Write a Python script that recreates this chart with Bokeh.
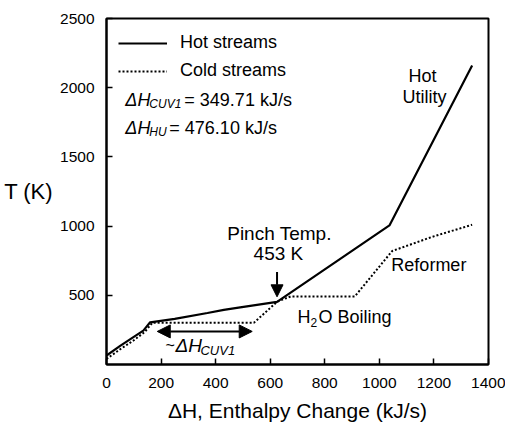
from bokeh.plotting import figure
from bokeh.models import (FixedTicker, Label, Arrow, NormalHead, Legend, LegendItem)
from bokeh.embed import file_html
from bokeh.resources import INLINE

# ---- data ----
hot_x = [0, 50, 100, 135, 160, 250, 370, 430, 490, 625, 1037, 1340]
hot_y = [65, 135, 200, 245, 305, 330, 372, 395, 413, 453, 1005, 2160]

cold_x = [0, 50, 100, 140, 168, 540, 625, 675, 910, 1047, 1190, 1340]
cold_y = [40, 110, 175, 235, 301, 301, 453, 492, 492, 820, 920, 1010]

x_ticks = [0, 200, 400, 600, 800, 1000, 1200, 1400]
y_ticks = [500, 1000, 1500, 2000, 2500]

pinch_T = 453
dH_cuv1 = 349.71
dH_hu = 476.10

FONT = "Liberation Sans"

p = figure(width=505, height=424, output_backend="svg", toolbar_location=None,
           x_range=(0, 1400), y_range=(0, 2500),
           min_border_left=106, min_border_right=17, min_border_top=18, min_border_bottom=57)
p.background_fill_color = "white"
p.border_fill_color = "white"
p.outline_line_color = "black"
p.outline_line_width = 2
p.grid.visible = False

for ax in (p.xaxis[0], p.yaxis[0]):
    ax.axis_line_color = "black"
    ax.axis_line_width = 2
    ax.major_tick_in = 6
    ax.major_tick_out = 0
    ax.major_tick_line_width = 1.5
    ax.minor_tick_line_color = None
    ax.major_label_text_font = FONT
    ax.major_label_text_font_size = "15.5px"
    ax.major_label_text_color = "black"

p.xaxis.ticker = FixedTicker(ticks=x_ticks)
p.yaxis.ticker = FixedTicker(ticks=y_ticks)
p.xaxis.major_label_standoff = 13
p.yaxis.major_label_standoff = 12

p.xaxis.axis_label = "ΔH, Enthalpy Change (kJ/s)"
p.xaxis.axis_label_text_font = FONT
p.xaxis.axis_label_text_font_size = "21px"
p.xaxis.axis_label_text_font_style = "normal"
p.xaxis.axis_label_text_color = "black"
p.xaxis.axis_label_standoff = 8

p.yaxis.axis_label = "T (K)"
p.yaxis.axis_label_text_font = FONT
p.yaxis.axis_label_text_font_size = "22px"
p.yaxis.axis_label_text_font_style = "normal"
p.yaxis.axis_label_text_color = "black"
p.yaxis.axis_label_orientation = "horizontal"
p.yaxis.axis_label_standoff = 4

# curves
hot = p.line(hot_x, hot_y, line_color="black", line_width=2.2)
cold = p.line(cold_x, cold_y, line_color="black", line_width=2, line_dash="2 2")

legend = Legend(items=[LegendItem(label="Hot streams", renderers=[hot]),
                       LegendItem(label="Cold streams", renderers=[cold])],
                location=(12, 283), orientation="vertical",
                glyph_width=49, glyph_height=20, label_height=20, spacing=7,
                label_standoff=13, padding=0, margin=0,
                border_line_color=None, background_fill_alpha=0,
                label_text_font=FONT, label_text_font_size="18px",
                label_text_color="black")
p.add_layout(legend)


def lab(x, y, text, size="18px", style="normal", align="left", baseline="middle",
        xo=0, yo=0):
    p.add_layout(Label(x=x, y=y, text=text, text_font=FONT, text_font_size=size,
                       text_font_style=style, text_align=align, text_baseline=baseline,
                       x_offset=xo, y_offset=yo, text_color="black"))


# energy text block
lab(69, 1912, "ΔH", style="italic")
lab(69, 1912, "CUV1", size="12px", style="italic", xo=24, yo=-4)
lab(69, 1912, f"= {dH_cuv1:.2f} kJ/s", xo=59)
lab(69, 1712, "ΔH", style="italic")
lab(69, 1712, "HU", size="12px", style="italic", xo=24, yo=-4)
lab(69, 1712, f"= {dH_hu:.2f} kJ/s", xo=44)

# annotations
lab(634, 945, "Pinch Temp.", size="19px", align="center")
lab(630, 802, f"{pinch_T} K", size="19px", align="center")
lab(700, 344, "H", )
lab(700, 344, "2", size="12px", xo=13, yo=-6)
lab(700, 344, "O Boiling", xo=21)
lab(1044, 716, "Reformer")
lab(1158, 2084, "Hot", align="center")
lab(1165, 1934, "Utility", align="center")

lab(216, 136, "~", size="16px")
lab(216, 136, "ΔH", size="19px", style="italic", xo=10)
lab(216, 136, "CUV1", size="13px", style="italic", xo=35, yo=-5)

# arrows
p.add_layout(Arrow(end=NormalHead(size=12, fill_color="black", line_color="black"),
                   x_start=625, y_start=668, x_end=625, y_end=489,
                   line_color="black", line_width=2))
p.add_layout(Arrow(start=NormalHead(size=13, fill_color="black", line_color="black"),
                   end=NormalHead(size=13, fill_color="black", line_color="black"),
                   x_start=186, y_start=239, x_end=534, y_end=239,
                   line_color="black", line_width=2))

open("out.html", "w").write(file_html(p, INLINE))
